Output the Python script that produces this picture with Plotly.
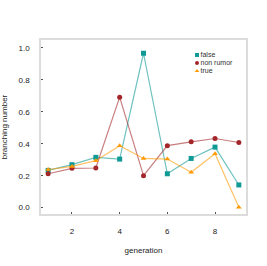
import plotly.graph_objects as go

generation = [1, 2, 3, 4, 5, 6, 7, 8, 9]
false_vals = [0.233, 0.269, 0.315, 0.304, 0.967, 0.212, 0.308, 0.379, 0.142]
nonrumor_vals = [0.212, 0.246, 0.248, 0.692, 0.200, 0.388, 0.412, 0.433, 0.408]
true_vals = [0.238, 0.258, 0.294, 0.388, 0.308, 0.304, 0.221, 0.338, 0.002]

names = ["false", "non rumor", "true"]
series = [
    (false_vals, "#0f9a96", "rgba(15,154,150,0.6)", "square"),
    (nonrumor_vals, "#a3262a", "rgba(163,38,42,0.6)", "circle"),
    (true_vals, "#ff9a00", "rgba(255,154,0,0.6)", "triangle-up"),
]
legend_y = [0.914, 0.868, 0.822]

fig = go.Figure()
for name, (vals, mc, lc, sym) in zip(names, series):
    fig.add_trace(go.Scatter(
        x=generation, y=vals, name=name, mode="lines+markers",
        line=dict(color=lc, width=1.2),
        marker=dict(color=mc, symbol=sym, size=5),
        showlegend=False,
    ))

# compact legend drawn inside the plot
for name, (vals, mc, lc, sym), ly in zip(names, series, legend_y):
    fig.add_trace(go.Scatter(
        x=[0.761], y=[ly], mode="markers+text", text=[name],
        textposition="middle right", textfont=dict(size=7, color="#333333"),
        marker=dict(color=mc, symbol=sym, size=4),
        xaxis="x2", yaxis="y2", showlegend=False, hoverinfo="skip",
    ))

axis_common = dict(
    showline=True, mirror=True, linecolor="#dcdcdc", linewidth=1.5,
    showgrid=False, zeroline=False, ticks="inside", ticklen=2,
    tickcolor="#555555", tickfont=dict(size=8, color="#222222"),
    automargin=False,
)

fig.update_layout(
    width=267, height=266,
    margin=dict(l=41, r=21, t=40, b=52),
    paper_bgcolor="white", plot_bgcolor="white",
    font=dict(family="Liberation Sans, Arial, sans-serif", size=8, color="#222222"),
    xaxis=dict(range=[0.7, 9.3], tickvals=[2, 4, 6, 8], ticklabelstandoff=9,
               title=dict(text="generation", font=dict(size=8), standoff=12),
               **axis_common),
    yaxis=dict(range=[-0.04, 1.05], tickvals=[0, 0.2, 0.4, 0.6, 0.8, 1.0],
               tickformat=".1f", ticklabelstandoff=8,
               title=dict(text="branching number", font=dict(size=8), standoff=12),
               **axis_common),
    xaxis2=dict(range=[0, 1], overlaying="x", visible=False, fixedrange=True),
    yaxis2=dict(range=[0, 1], overlaying="y", visible=False, fixedrange=True),
    showlegend=False,
)

fig.write_html("out.html", config={"displayModeBar": False},
               post_script="document.body.style.margin='0';")
